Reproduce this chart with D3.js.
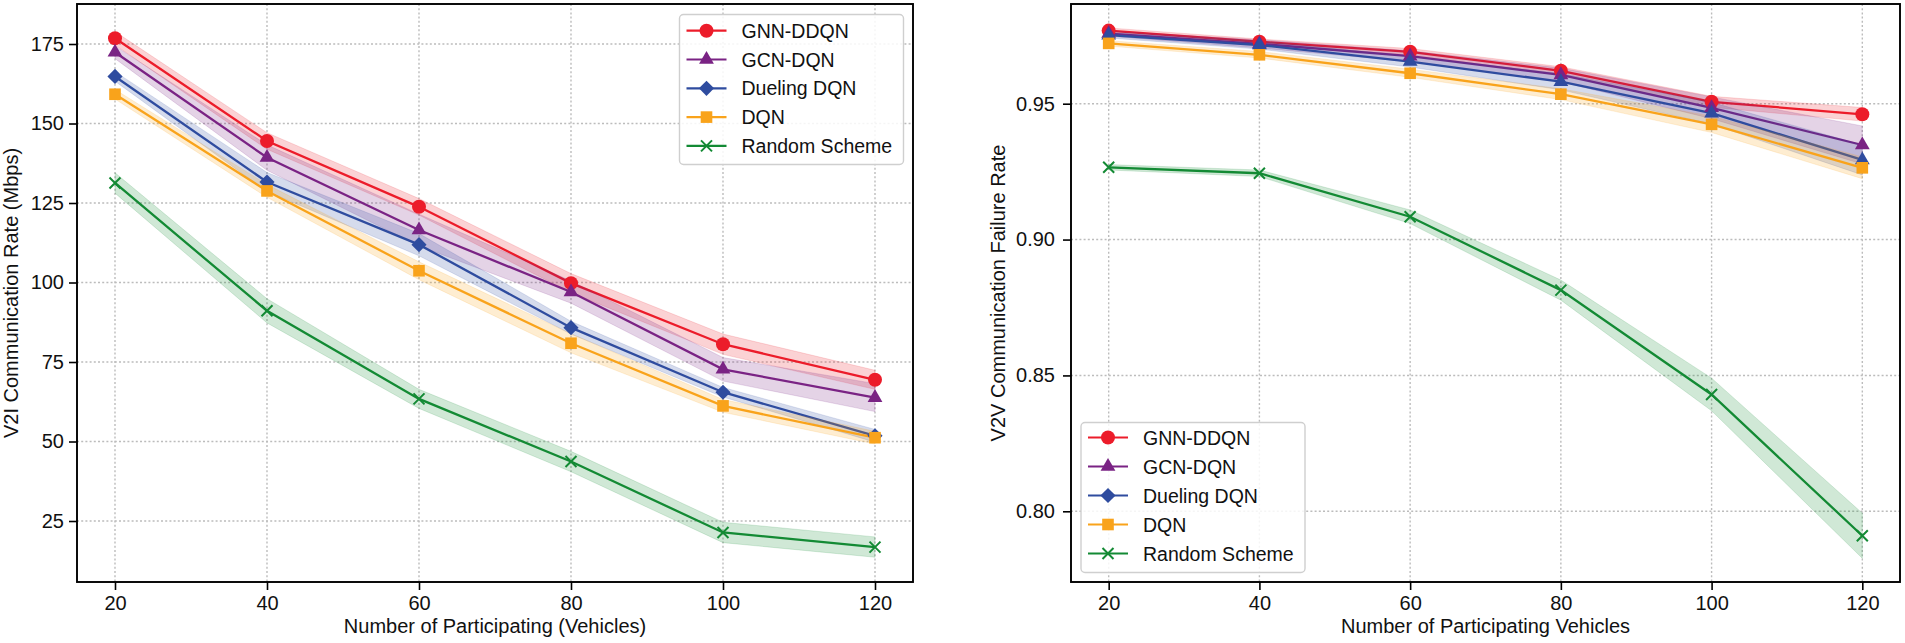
<!DOCTYPE html>
<html>
<head>
<meta charset="utf-8">
<script src="https://cdn.jsdelivr.net/npm/d3@7"></script>
<style>
  html, body { margin: 0; padding: 0; background: #fff; }
  svg { display: block; }
  text { font-family: "Liberation Sans", Arial, Helvetica, sans-serif; fill: #111; }
</style>
</head>
<body>
<svg id="chart" width="1905" height="643"></svg>
<script>
// ---------------- data ----------------
const xValues = [20, 40, 60, 80, 100, 120];
const xTicks = [20, 40, 60, 80, 100, 120];
const seriesNames = ["GNN-DDQN", "GCN-DQN", "Dueling DQN", "DQN", "Random Scheme"];
const seriesColors = ["#ec1c2a", "#7a2384", "#2f4c9f", "#f9a31b", "#138a34"];

// Left: V2I communication rate (Mbps)
const v2iGNN     = [176.8, 144.5, 123.8, 99.8, 80.6, 69.4];
const v2iGCN     = [172.4, 139.3, 116.5, 97.0, 72.7, 63.8];
const v2iDueling = [164.8, 131.6, 111.9, 85.8, 65.5, 51.8];
const v2iDQN     = [159.2, 128.8, 103.7, 80.9, 61.2, 51.2];
const v2iRandom  = [131.3, 91.1, 63.4, 43.7, 21.4, 16.8];
const v2iGNNStd     = [2.1, 2.6, 2.6, 3.0, 3.2, 3.0];
const v2iGCNStd     = [2.0, 4.0, 5.0, 3.5, 3.7, 4.4];
const v2iDuelingStd = [1.5, 3.0, 3.5, 2.0, 1.5, 2.0];
const v2iDQNStd     = [1.5, 2.0, 2.8, 3.0, 2.0, 2.0];
const v2iRandomStd  = [3.2, 3.8, 3.0, 3.2, 3.2, 3.2];
const v2iYTicks = [25, 50, 75, 100, 125, 150, 175];

// Right: V2V communication failure rate
const v2vGNN     = [0.9769, 0.9728, 0.9691, 0.9621, 0.9507, 0.9461];
const v2vGCN     = [0.9758, 0.9720, 0.9675, 0.9606, 0.9485, 0.9348];
const v2vDueling = [0.9752, 0.9716, 0.9655, 0.9581, 0.9465, 0.9293];
const v2vDQN     = [0.9722, 0.9680, 0.9612, 0.9535, 0.9424, 0.9264];
const v2vRandom  = [0.9266, 0.9244, 0.9084, 0.8814, 0.8430, 0.7910];
const v2vGNNStd     = [0.0010, 0.0010, 0.0012, 0.0015, 0.0020, 0.0025];
const v2vGCNStd     = [0.0010, 0.0015, 0.0020, 0.0025, 0.0040, 0.0070];
const v2vDuelingStd = [0.0010, 0.0015, 0.0020, 0.0030, 0.0040, 0.0055];
const v2vDQNStd     = [0.0010, 0.0012, 0.0015, 0.0020, 0.0030, 0.0040];
const v2vRandomStd  = [0.0010, 0.0012, 0.0025, 0.0037, 0.0060, 0.0083];
const v2vYTicks = [0.80, 0.85, 0.90, 0.95];

// ---------------- drawing ----------------
const svg = d3.select("#chart");
svg.append("rect").attr("width", 1905).attr("height", 643).attr("fill", "#fff");

const markerKinds = ["circle", "triangle", "diamond", "square", "x"];

function drawMarker(g, kind, x, y, color) {
  if (kind === "circle") {
    g.append("circle").attr("cx", x).attr("cy", y).attr("r", 7).attr("fill", color);
  } else if (kind === "triangle") {
    g.append("path").attr("d", d3.symbol(d3.symbolTriangle, 95)())
      .attr("transform", `translate(${x},${y})`).attr("fill", color);
  } else if (kind === "diamond") {
    g.append("path").attr("d", d3.symbol(d3.symbolSquare, 115)())
      .attr("transform", `translate(${x},${y}) rotate(45)`).attr("fill", color);
  } else if (kind === "square") {
    g.append("path").attr("d", d3.symbol(d3.symbolSquare, 135)())
      .attr("transform", `translate(${x},${y})`).attr("fill", color);
  } else if (kind === "x") {
    const s = 5.5;
    g.append("path").attr("d", `M${x - s},${y - s}L${x + s},${y + s}M${x - s},${y + s}L${x + s},${y - s}`)
      .attr("stroke", color).attr("stroke-width", 2).attr("fill", "none");
  }
}

function drawPanel(cfg) {
  const { left, right, top, bottom } = cfg.box;
  const x = d3.scaleLinear().domain([15, 125]).range([left, right]);
  const y = d3.scaleLinear().domain(cfg.yDomain).range([bottom, top]);
  const g = svg.append("g");

  // grid
  const grid = g.append("g").attr("stroke", "#bcbcbc").attr("stroke-width", 1.4)
    .attr("stroke-dasharray", "2,2.2");
  xTicks.forEach(t => grid.append("line").attr("x1", x(t)).attr("x2", x(t)).attr("y1", top).attr("y2", bottom));
  cfg.yTicks.forEach(t => grid.append("line").attr("x1", left).attr("x2", right).attr("y1", y(t)).attr("y2", y(t)));

  // series
  const clip = "clip" + cfg.id;
  svg.append("clipPath").attr("id", clip).append("rect")
    .attr("x", left).attr("y", top).attr("width", right - left).attr("height", bottom - top);
  const plot = g.append("g").attr("clip-path", `url(#${clip})`);

  cfg.series.forEach((s, i) => {
    const color = seriesColors[i];
    const pts = xValues.map((xv, j) => ({ x: xv, m: s.mean[j], sd: s.std[j] }));
    const area = d3.area().x(d => x(d.x)).y0(d => y(d.m - d.sd)).y1(d => y(d.m + d.sd));
    plot.append("path").attr("d", area(pts)).attr("fill", color).attr("fill-opacity", 0.2)
      .attr("stroke", color).attr("stroke-opacity", 0.15).attr("stroke-width", 1);
    const line = d3.line().x(d => x(d.x)).y(d => y(d.m));
    plot.append("path").attr("d", line(pts)).attr("fill", "none").attr("stroke", color).attr("stroke-width", 2.3);
  });
  cfg.series.forEach((s, i) => {
    const mg = plot.append("g");
    xValues.forEach((xv, j) => drawMarker(mg, cfg.plotMarkers[i], x(xv), y(s.mean[j]), seriesColors[i]));
  });

  // frame
  g.append("rect").attr("x", left).attr("y", top).attr("width", right - left).attr("height", bottom - top)
    .attr("fill", "none").attr("stroke", "#000").attr("stroke-width", 1.9);

  // x ticks
  const xAx = g.append("g").attr("transform", `translate(0,${bottom})`)
    .call(d3.axisBottom(x).tickValues(xTicks).tickSize(8).tickPadding(6).tickFormat(d3.format("d")));
  xAx.select(".domain").remove();
  xAx.selectAll("line").attr("stroke", "#000").attr("stroke-width", 1.6);
  xAx.selectAll("text").attr("font-size", 20).attr("fill", "#111")
    .attr("font-family", "Liberation Sans, Arial, sans-serif");

  // y ticks
  const yAx = g.append("g").attr("transform", `translate(${left},0)`)
    .call(d3.axisLeft(y).tickValues(cfg.yTicks).tickSize(8).tickPadding(cfg.yPad).tickFormat(cfg.yFormat));
  yAx.select(".domain").remove();
  yAx.selectAll("line").attr("stroke", "#000").attr("stroke-width", 1.6);
  yAx.selectAll("text").attr("font-size", 20).attr("fill", "#111")
    .attr("font-family", "Liberation Sans, Arial, sans-serif");

  // titles
  g.append("text").attr("x", (left + right) / 2).attr("y", 633).attr("text-anchor", "middle")
    .attr("font-size", 20).text(cfg.xTitle);
  g.append("text").attr("transform", `translate(${cfg.yTitleX},${(top + bottom) / 2}) rotate(-90)`)
    .attr("text-anchor", "middle").attr("font-size", 20).text(cfg.yTitle);

  // legend
  const L = cfg.legend;
  const lg = g.append("g");
  lg.append("rect").attr("x", L.x).attr("y", L.y).attr("width", L.w).attr("height", L.h)
    .attr("rx", 4).attr("fill", "#fff").attr("fill-opacity", 0.85)
    .attr("stroke", "#cfcfcf").attr("stroke-width", 1.4);
  seriesNames.forEach((name, i) => {
    const ry = L.y + L.firstRow + i * L.rowGap;
    lg.append("line").attr("x1", L.x + 7).attr("x2", L.x + 47).attr("y1", ry).attr("y2", ry)
      .attr("stroke", seriesColors[i]).attr("stroke-width", 2.2);
    drawMarker(lg, markerKinds[i], L.x + 27, ry, seriesColors[i]);
    lg.append("text").attr("x", L.x + 62).attr("y", ry).attr("dominant-baseline", "central")
      .attr("font-size", 19.5).text(name);
  });
}

drawPanel({
  id: "L",
  box: { left: 77, right: 913, top: 4, bottom: 582 },
  yDomain: [5.82, 187.58],
  yTicks: v2iYTicks,
  yFormat: d3.format("d"),
  yPad: 5,
  xTitle: "Number of Participating (Vehicles)",
  yTitle: "V2I Communication Rate (Mbps)",
  yTitleX: 17.5,
  plotMarkers: ["circle", "triangle", "diamond", "square", "x"],
  series: [
    { mean: v2iGNN, std: v2iGNNStd },
    { mean: v2iGCN, std: v2iGCNStd },
    { mean: v2iDueling, std: v2iDuelingStd },
    { mean: v2iDQN, std: v2iDQNStd },
    { mean: v2iRandom, std: v2iRandomStd }
  ],
  legend: { x: 679.5, y: 14.5, w: 224, h: 150, firstRow: 16.2, rowGap: 28.8 }
});

drawPanel({
  id: "R",
  box: { left: 1071, right: 1900, top: 4, bottom: 582 },
  yDomain: [0.77398, 0.98669],
  yTicks: v2vYTicks,
  yFormat: d3.format(".2f"),
  yPad: 8,
  xTitle: "Number of Participating Vehicles",
  yTitle: "V2V Communication Failure Rate",
  yTitleX: 1005,
  plotMarkers: ["circle", "triangle", "triangle", "square", "x"],
  series: [
    { mean: v2vGNN, std: v2vGNNStd },
    { mean: v2vGCN, std: v2vGCNStd },
    { mean: v2vDueling, std: v2vDuelingStd },
    { mean: v2vDQN, std: v2vDQNStd },
    { mean: v2vRandom, std: v2vRandomStd }
  ],
  legend: { x: 1081, y: 422.5, w: 224, h: 150, firstRow: 15, rowGap: 29 }
});
</script>
</body>
</html>
